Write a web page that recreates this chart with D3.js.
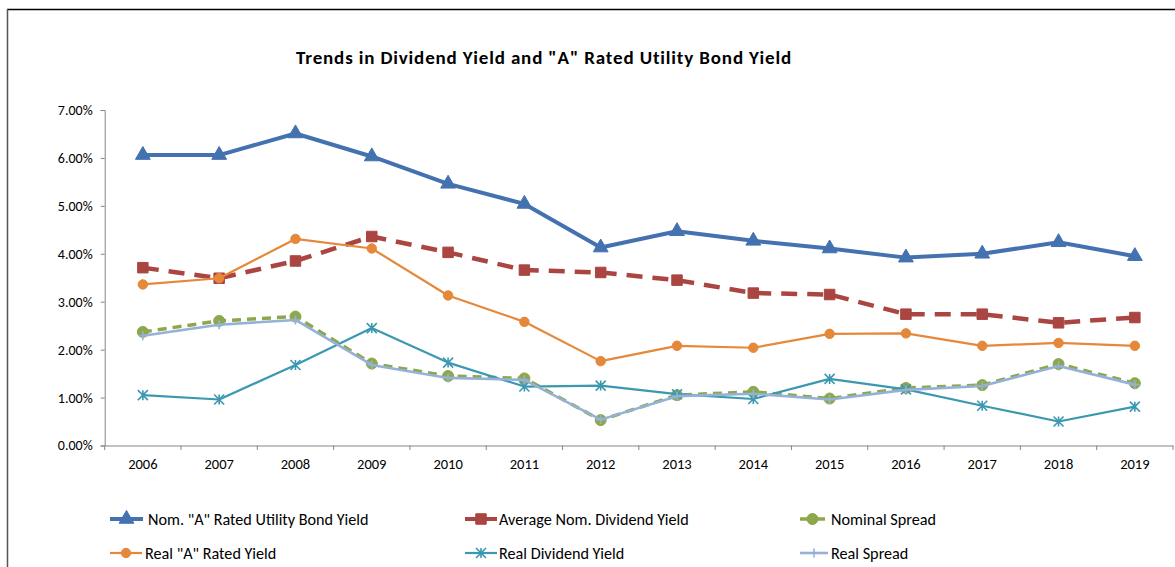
<!DOCTYPE html>
<html><head><meta charset="utf-8">
<script src="https://cdn.jsdelivr.net/npm/d3@7"></script>
<style>body{margin:0;background:#fff}svg{display:block}text{font-family:Carlito,Lato,"Open Sans",sans-serif}</style>
</head><body><svg id="c" width="1175" height="567"></svg>
<script>
const years = ["2006","2007","2008","2009","2010","2011","2012","2013","2014","2015","2016","2017","2018","2019"];
const nomBond = [6.06,6.06,6.51,6.03,5.46,5.04,4.13,4.47,4.27,4.11,3.92,4.00,4.24,3.95];
const avgNomDiv = [3.71,3.49,3.85,4.36,4.03,3.66,3.61,3.45,3.18,3.15,2.74,2.74,2.56,2.67];
const nominalSpread = [2.37,2.60,2.69,1.71,1.45,1.40,0.53,1.05,1.12,0.98,1.20,1.26,1.70,1.30];
const realBond = [3.36,3.49,4.31,4.11,3.13,2.58,1.76,2.08,2.04,2.33,2.34,2.08,2.14,2.08];
const realDiv = [1.05,0.96,1.68,2.45,1.73,1.23,1.25,1.07,0.97,1.39,1.17,0.83,0.50,0.81];
const realSpread = [2.29,2.52,2.62,1.68,1.41,1.37,0.54,1.03,1.08,0.96,1.16,1.24,1.66,1.27];
const yTicks = [0,1,2,3,4,5,6,7];
const title = 'Trends in Dividend Yield and "A" Rated Utility Bond Yield';

const series = [
  {name:'Nom. "A" Rated Utility Bond Yield', values:nomBond, color:"#4472B0", width:4, dash:null, marker:"triangle", msize:95},
  {name:"Average Nom. Dividend Yield", values:avgNomDiv, color:"#AA4542", width:4.5, dash:"16,10", marker:"square", msize:110},
  {name:"Nominal Spread", values:nominalSpread, color:"#8CA84A", width:3.5, dash:"9,6", marker:"circle", msize:95},
  {name:'Real "A" Rated Yield', values:realBond, color:"#E5883A", width:2.2, dash:null, marker:"circle", msize:70},
  {name:"Real Dividend Yield", values:realDiv, color:"#3B98B0", width:2.2, dash:null, marker:"asterisk", msize:10},
  {name:"Real Spread", values:realSpread, color:"#95B1D8", width:2.6, dash:null, marker:"plus", msize:9}
];

const svg = d3.select("#c");
svg.append("line").attr("x1",7).attr("y1",9.5).attr("x2",1175).attr("y2",9.5).attr("stroke","#000").attr("stroke-width",1.5);
svg.append("line").attr("x1",7.5).attr("y1",9).attr("x2",7.5).attr("y2",567).attr("stroke","#555").attr("stroke-width",1.5);

const x = d3.scaleBand().domain(years).range([104.7,1173]);
const y = d3.scaleLinear().domain([0,7]).range([445.5,110]);

svg.append("text").attr("x",544).attr("y",63.5).attr("text-anchor","middle")
  .attr("font-weight","bold").attr("font-size",19).attr("letter-spacing",0.85).attr("fill","#000").text(title);

const yAxis = d3.axisLeft(y).tickValues(yTicks).tickSize(4).tickPadding(8).tickFormat(d=>d.toFixed(2)+"%");
const gy = svg.append("g").attr("transform","translate(104.7,0)").call(yAxis);
gy.select(".domain").attr("stroke","#868686");
gy.selectAll(".tick line").attr("stroke","#868686");
gy.selectAll(".tick text").attr("font-size",14).attr("fill","#000").style("font-family","Carlito,Lato,sans-serif");

const xAxis = d3.axisBottom(x).tickSize(0).tickPadding(13);
const gx = svg.append("g").attr("transform","translate(0,445.5)").call(xAxis);
gx.select(".domain").attr("stroke","#868686");
gx.selectAll(".tick text").attr("font-size",14.5).attr("fill","#000").style("font-family","Carlito,Lato,sans-serif");
svg.append("g").selectAll("line").data(years.concat(["end"])).join("line")
  .attr("x1",(d,i)=>x.range()[0]+i*x.step()).attr("x2",(d,i)=>x.range()[0]+i*x.step())
  .attr("y1",445.5).attr("y2",450).attr("stroke","#868686");

const cx = d => x(d)+x.bandwidth()/2;

function markerPath(type,size){
  if(type==="triangle") return d3.symbol(d3.symbolTriangle,size)();
  if(type==="square") return d3.symbol(d3.symbolSquare,size)();
  if(type==="circle") return d3.symbol(d3.symbolCircle,size)();
  const s=size/2;
  if(type==="plus") return `M${-s},0L${s},0M0,${-s}L0,${s}`;
  if(type==="asterisk") return `M${-s},${-s}L${s},${s}M${-s},${s}L${s},${-s}M0,${-s}L0,${s}`;
}

const line = d3.line().x((d,i)=>cx(years[i])).y(d=>y(d));
series.forEach(s=>{
  const g = svg.append("g");
  g.append("path").attr("d",line(s.values)).attr("fill","none").attr("stroke",s.color)
    .attr("stroke-width",s.width).attr("stroke-dasharray",s.dash).attr("stroke-linejoin","round");
  g.selectAll("path.m").data(s.values).join("path").attr("class","m")
    .attr("transform",(d,i)=>`translate(${cx(years[i])},${y(d)})`)
    .attr("d",markerPath(s.marker,s.msize))
    .attr("fill",(s.marker==="plus"||s.marker==="asterisk")?"none":s.color)
    .attr("stroke",s.color).attr("stroke-width",(s.marker==="plus"||s.marker==="asterisk")?1.6:1);
});

const legendPos = [
  {lx1:110,lx2:143,ty:519,tx:148},
  {lx1:465,lx2:497,ty:519,tx:499},
  {lx1:800,lx2:825,ty:519,tx:831},
  {lx1:110,lx2:142,ty:553,tx:145},
  {lx1:465,lx2:497,ty:553,tx:499},
  {lx1:800,lx2:828,ty:553,tx:831}
];
series.forEach((s,i)=>{
  const p=legendPos[i];
  const g=svg.append("g");
  g.append("line").attr("x1",p.lx1).attr("x2",p.lx2).attr("y1",p.ty).attr("y2",p.ty)
    .attr("stroke",s.color).attr("stroke-width",Math.min(s.width,4));
  g.append("path").attr("transform",`translate(${(p.lx1+p.lx2)/2},${p.ty})`)
    .attr("d",markerPath(s.marker,s.msize))
    .attr("fill",(s.marker==="plus"||s.marker==="asterisk")?"none":s.color)
    .attr("stroke",s.color).attr("stroke-width",(s.marker==="plus"||s.marker==="asterisk")?1.6:1);
  g.append("text").attr("x",p.tx).attr("y",p.ty).attr("dy","0.35em").attr("font-size",16.2).attr("fill","#000").text(s.name);
});
</script></body></html>
